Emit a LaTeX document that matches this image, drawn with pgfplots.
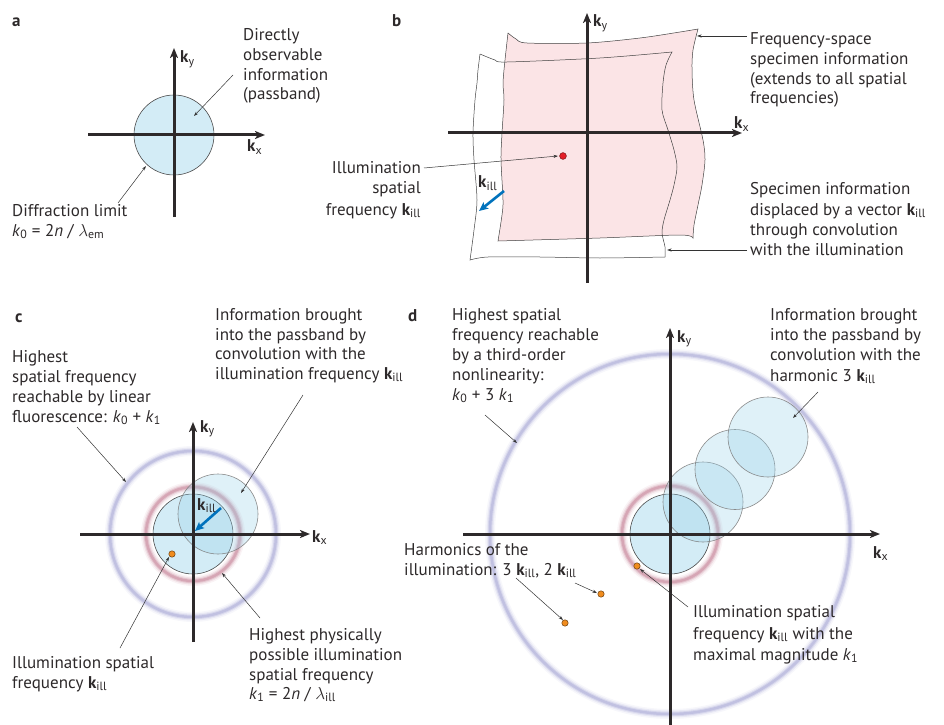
\documentclass[border=0pt]{standalone}
\usepackage{pgfplots}
\pgfplotsset{compat=1.18}
\usepackage{fontspec}
\setmainfont{PT Sans}
\usetikzlibrary{arrows.meta}

\definecolor{txt}{RGB}{45,41,42}
\definecolor{passfill}{RGB}{211,236,246}
\definecolor{shiftfill}{RGB}{150,208,232}
\definecolor{pinkfill}{RGB}{251,228,230}
\definecolor{kblue}{RGB}{0,114,188}
\definecolor{ringred}{RGB}{185,105,130}
\definecolor{ringblue}{RGB}{150,150,205}
\definecolor{dotorange}{RGB}{240,140,30}
\definecolor{dotred}{RGB}{228,30,40}

\tikzset{
  lbl/.style={inner sep=0pt, font=\fontsize{17bp}{20bp}\selectfont, text=txt},
  axarrow/.style={draw=txt, line width=3bp, -{Stealth[length=10bp, width=8bp, inset=2.5bp]}},
  thinarrow/.style={draw=black!80, line width=0.5bp, -{Stealth[length=4.5bp, width=3bp]}},
  karrow/.style={draw=kblue, line width=2.6bp, -{Stealth[length=9bp, width=8bp, inset=2bp]}},
  passband/.style={fill=passfill, draw=black!70, line width=0.6bp},
  shifted/.style={fill=shiftfill, fill opacity=0.3, draw=black!50, draw opacity=0.9, line width=0.6bp},
}

% text line helpers: baseline-anchored at (x, y) in frame units
\newcommand{\lab}[3]{\node[lbl, anchor=base west] at (axis cs:#1,#2) {#3};}
\newcommand{\labr}[3]{\node[lbl, anchor=base east] at (axis cs:#1,#2) {#3};}
\newcommand{\kv}[1]{\textbf{k}\textsubscript{#1}}
\newcommand{\ik}[1]{\textit{k}\textsubscript{#1}}
% blurred ring: centre x, centre y, radius, colour
\newcommand{\softring}[4]{%
  \draw[#4, line width=10bp, opacity=0.08] (axis cs:#1,#2) circle[radius=#3bp];
  \draw[#4, line width=7bp, opacity=0.14] (axis cs:#1,#2) circle[radius=#3bp];
  \draw[#4, line width=4.5bp, opacity=0.24] (axis cs:#1,#2) circle[radius=#3bp];
  \draw[#4, line width=2.5bp, opacity=0.32] (axis cs:#1,#2) circle[radius=#3bp];
}

\begin{document}
\begin{tikzpicture}
\begin{axis}[
  hide axis, scale only axis,
  width=944bp, height=725bp,
  xmin=0, xmax=944, ymin=0, ymax=725,
  y dir=reverse, clip=false,
]

% ---------------- panel a ----------------
\draw[passband] (axis cs:174,135) circle[radius=40bp];
\draw[axarrow] (axis cs:88,135) -- (axis cs:265,135);
\draw[axarrow] (axis cs:174,217) -- (axis cs:174,48);
\lab{180}{63}{\kv{y}}
\lab{247}{152}{\kv{x}}
\lab{12}{27}{\textbf{a}}
\lab{243}{41}{Directly}
\lab{243}{61}{observable}
\lab{243}{81}{information}
\lab{243}{100}{(passband)}
\lab{12}{216}{Diffraction limit}
\lab{12}{236}{\ik{0} = 2\textit{n} / $\lambda$\textsubscript{em}}
\draw[thinarrow] (axis cs:233,75) -- (axis cs:194,116);
\draw[thinarrow] (axis cs:118,203) -- (axis cs:146,166);

% ---------------- panel b ----------------
% specimen information in frequency space
\draw[fill=pinkfill, draw=black!75, line width=0.5bp]
  plot[smooth, tension=0.5] coordinates {(508,33) (516,39) (527,43) (587,43) (640,38) (680,32) (698,29)}
  -- plot[smooth, tension=0.5] coordinates {(698,29) (693,50) (692,70) (694,100) (703,140) (705,160) (702,185) (698,205) (694,225) (693,238)}
  -- plot[smooth, tension=0.5] coordinates {(693,238) (680,235) (600,238) (498,241)}
  -- plot[smooth, tension=0.5] coordinates {(498,241) (502,215) (503,200) (501,160) (502,133) (504,100) (503,83) (505,60) (508,33)}
  -- cycle;
% the same information displaced by k_ill
\draw[draw=black!75, line width=0.5bp]
  plot[smooth, tension=0.5] coordinates {(480,54) (495,60) (507,62) (600,58) (672,52)}
  -- plot[smooth, tension=0.5] coordinates {(672,52) (666,65) (663,83) (662,110) (668,130) (674,150) (677,167) (674,185) (670,200) (664,220) (662,233) (665,247) (665,257)}
  -- plot[smooth, tension=0.5] coordinates {(665,257) (600,258) (540,257) (488,257) (470,260)}
  -- plot[smooth, tension=0.5] coordinates {(470,260) (474,230) (477,200) (474,160) (473,133) (475,100) (477,83) (478,70) (480,54)};
\draw[axarrow] (axis cs:448,133) -- (axis cs:742,133);
\draw[axarrow] (axis cs:587,283) -- (axis cs:587,13);
\addplot[only marks, mark=*, mark size=3.4bp, mark options={fill=dotred, draw=black!50!dotred, line width=0.5bp}]
  coordinates {(563,156)};
\draw[karrow] (axis cs:504,191) -- (axis cs:479,211);
\lab{478}{188}{\kv{ill}}
\lab{593}{27}{\kv{y}}
\lab{734}{129}{\kv{x}}
\lab{392}{27}{\textbf{b}}
\labr{421}{174}{Illumination}
\labr{421}{194}{spatial}
\labr{421}{215}{frequency \kv{ill}}
\draw[thinarrow] (axis cs:424,168) -- (axis cs:558,156);
\lab{750}{45}{Frequency-space}
\lab{750}{65}{specimen information}
\lab{750}{85}{(extends to all spatial}
\lab{750}{104}{frequencies)}
\lab{750}{195}{Specimen information}
\lab{750}{215}{displaced by a vector \kv{ill}}
\lab{750}{235}{through convolution}
\lab{750}{255}{with the illumination}
\draw[thinarrow] (axis cs:747,36) -- (axis cs:697,36);
\draw[thinarrow] (axis cs:747,250) -- (axis cs:667,250);

% ---------------- panel c ----------------
\softring{193}{534}{83}{ringblue}
\softring{193}{534}{47}{ringred}
\draw[passband] (axis cs:193,534) circle[radius=40bp];
\draw[shifted] (axis cs:218,514) circle[radius=40bp];
\draw[axarrow] (axis cs:80,534) -- (axis cs:310,534);
\draw[axarrow] (axis cs:193,642) -- (axis cs:193,422);
\draw[karrow] (axis cs:221,508) -- (axis cs:195,531);
\addplot[only marks, mark=*, mark size=3.2bp, mark options={fill=dotorange, draw=black!55!dotorange, line width=0.5bp}]
  coordinates {(172,554)};
\lab{197}{510}{\kv{ill}}
\lab{200}{432}{\kv{y}}
\lab{312}{542}{\kv{x}}
\lab{15}{322}{\textbf{c}}
\lab{12}{362}{Highest}
\lab{12}{382}{spatial frequency}
\lab{12}{402}{reachable by linear}
\lab{12}{422}{fluorescence: \ik{0} + \ik{1}}
\lab{215}{320}{Information brought}
\lab{215}{340}{into the passband by}
\lab{215}{359}{convolution with the}
\lab{215}{379}{illumination frequency \kv{ill}}
\lab{249}{640}{Highest physically}
\lab{249}{660}{possible illumination}
\lab{249}{680}{spatial frequency}
\lab{249}{699}{\ik{1} = 2\textit{n} / $\lambda$\textsubscript{ill}}
\lab{12}{668}{Illumination spatial}
\lab{12}{688}{frequency \kv{ill}}
\draw[thinarrow] (axis cs:77,427) -- (axis cs:126,482);
\draw[thinarrow] (axis cs:303,395) -- (axis cs:241,493);
\draw[thinarrow] (axis cs:260,618) -- (axis cs:222,573);
\draw[thinarrow] (axis cs:120,648) -- (axis cs:169,557);

% ---------------- panel d ----------------
\softring{670}{534}{180}{ringblue}
\softring{670}{534}{48}{ringred}
\draw[passband] (axis cs:670,534) circle[radius=40bp];
\draw[shifted] (axis cs:703,502) circle[radius=40bp];
\draw[shifted] (axis cs:735,469.5) circle[radius=40bp];
\draw[shifted] (axis cs:768,437) circle[radius=40bp];
\draw[axarrow] (axis cs:463,534) -- (axis cs:880,534);
\draw[axarrow] (axis cs:670,725) -- (axis cs:670,328);
\addplot[only marks, mark=*, mark size=3.2bp, mark options={fill=dotorange, draw=black!55!dotorange, line width=0.5bp}]
  coordinates {(637,566) (601,594) (565,623)};
\lab{677}{342}{\kv{y}}
\lab{873}{558}{\kv{x}}
\lab{408}{321}{\textbf{d}}
\lab{452}{320}{Highest spatial}
\lab{452}{340}{frequency reachable}
\lab{452}{360}{by a third-order}
\lab{452}{380}{nonlinearity:}
\lab{452}{400}{\ik{0} + 3 \ik{1}}
\lab{770}{320}{Information brought}
\lab{770}{340}{into the passband by}
\lab{770}{360}{convolution with the}
\lab{770}{381}{harmonic 3 \kv{ill}}
\lab{404}{555}{Harmonics of the}
\lab{404}{575}{illumination: 3 \kv{ill}, 2 \kv{ill}}
\lab{693}{617}{Illumination spatial}
\lab{693}{639}{frequency \kv{ill} with the}
\lab{693}{660}{maximal magnitude \ik{1}}
\draw[thinarrow] (axis cs:485,415) -- (axis cs:517,443);
\draw[thinarrow] (axis cs:818,392) -- (axis cs:793,418);
\draw[thinarrow] (axis cs:516,578) -- (axis cs:563,620);
\draw[thinarrow] (axis cs:575,583) -- (axis cs:597,593);
\draw[thinarrow] (axis cs:688,607) -- (axis cs:640,569);
\end{axis}
\pgfresetboundingbox
\path (current axis.south west) rectangle (current axis.north east);
\end{tikzpicture}
\end{document}
